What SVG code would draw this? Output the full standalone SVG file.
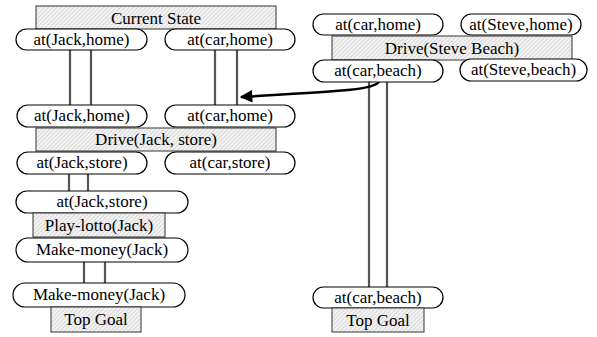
<svg xmlns="http://www.w3.org/2000/svg" width="597" height="337" viewBox="0 0 597 337" font-family="Times New Roman, Liberation Serif, serif">
<style>
.pill{fill:#fff;stroke:#000;stroke-width:1.2}
.box{fill:url(#hatch);stroke:#333;stroke-width:1}
.link{stroke:#555;stroke-width:2.2;fill:none}
.arrow{stroke:#000;stroke-width:2.5;fill:none}
</style>
<defs>
<pattern id="hatch" width="3" height="3" patternUnits="userSpaceOnUse" patternTransform="rotate(45)">
<rect width="3" height="3" fill="#f4f4f4"/>
<line x1="0" y1="0" x2="0" y2="3" stroke="#bbb" stroke-width="1"/>
</pattern>
<marker id="ah" viewBox="0 0 10 10" refX="9" refY="5" markerWidth="6" markerHeight="5" orient="auto" markerUnits="strokeWidth">
<path d="M0,0 L10,5 L0,10 z" fill="#000"/>
</marker>
</defs>
<g id="connectors">
<line class="link" x1="70" y1="50" x2="70" y2="106"/>
<line class="link" x1="91" y1="50" x2="91" y2="106"/>
<line class="link" x1="215" y1="50" x2="215" y2="106"/>
<line class="link" x1="237" y1="50" x2="237" y2="106"/>
<line class="link" x1="69" y1="174" x2="69" y2="192"/>
<line class="link" x1="88" y1="174" x2="88" y2="192"/>
<line class="link" x1="84" y1="262" x2="84" y2="284"/>
<line class="link" x1="105" y1="262" x2="105" y2="284"/>
<line class="link" x1="369" y1="82" x2="369" y2="288"/>
<line class="link" x1="387" y1="82" x2="387" y2="288"/>
<path class="arrow" d="M379,82 C372,90 345,91 241,97" marker-end="url(#ah)"/>
</g>
<g id="current-state"><rect class="box" x="36" y="6" width="240" height="23"/><text x="156" y="24" font-family="Times New Roman" font-size="17" text-anchor="middle">Current State</text></g>
<g id="n1"><rect class="pill" x="16" y="29" width="131" height="21" rx="10.5"/><text x="81.5" y="45" font-family="Times New Roman" font-size="17" text-anchor="middle">at(Jack,home)</text></g>
<g id="n2"><rect class="pill" x="165" y="29" width="130" height="21" rx="10.5"/><text x="230" y="45" font-family="Times New Roman" font-size="17" text-anchor="middle">at(car,home)</text></g>
<g id="n3"><rect class="pill" x="17" y="105" width="130" height="22" rx="11"/><text x="82" y="121" font-family="Times New Roman" font-size="17" text-anchor="middle">at(Jack,home)</text></g>
<g id="n4"><rect class="pill" x="165" y="105" width="130" height="22" rx="11"/><text x="230" y="121" font-family="Times New Roman" font-size="17" text-anchor="middle">at(car,home)</text></g>
<g id="drive-jack"><rect class="box" x="36" y="128" width="240" height="23"/><text x="156" y="145" font-family="Times New Roman" font-size="17" text-anchor="middle">Drive(Jack, store)</text></g>
<g id="n5"><rect class="pill" x="17" y="152" width="130" height="22" rx="11"/><text x="82" y="168" font-family="Times New Roman" font-size="17" text-anchor="middle">at(Jack,store)</text></g>
<g id="n6"><rect class="pill" x="165" y="152" width="130" height="22" rx="11"/><text x="230" y="168" font-family="Times New Roman" font-size="17" text-anchor="middle">at(car,store)</text></g>
<g id="n7"><rect class="pill" x="16" y="191" width="172" height="22" rx="11"/><text x="102" y="207" font-family="Times New Roman" font-size="17" text-anchor="middle">at(Jack,store)</text></g>
<g id="play-lotto"><rect class="box" x="33" y="213" width="132" height="24"/><text x="99" y="231" font-family="Times New Roman" font-size="17" text-anchor="middle">Play-lotto(Jack)</text></g>
<g id="n8"><rect class="pill" x="16" y="238" width="172" height="24" rx="12"/><text x="102" y="255" font-family="Times New Roman" font-size="17" text-anchor="middle">Make-money(Jack)</text></g>
<g id="n9"><rect class="pill" x="13" y="283" width="172" height="24" rx="12"/><text x="99" y="300" font-family="Times New Roman" font-size="17" text-anchor="middle">Make-money(Jack)</text></g>
<g id="top-goal-1"><rect class="box" x="51" y="307" width="90" height="25"/><text x="96" y="325" font-family="Times New Roman" font-size="17" text-anchor="middle">Top Goal</text></g>
<g id="n10"><rect class="pill" x="313" y="14" width="130" height="21" rx="10.5"/><text x="378" y="30" font-family="Times New Roman" font-size="17" text-anchor="middle">at(car,home)</text></g>
<g id="n11"><rect class="pill" x="461" y="14" width="120" height="21" rx="10.5"/><text x="521" y="30" font-family="Times New Roman" font-size="17" text-anchor="middle">at(Steve,home)</text></g>
<g id="drive-steve"><rect class="box" x="332" y="36" width="240" height="24"/><text x="452" y="54" font-family="Times New Roman" font-size="17" text-anchor="middle">Drive(Steve Beach)</text></g>
<g id="n12"><rect class="pill" x="313" y="60" width="130" height="22" rx="11"/><text x="378" y="76" font-family="Times New Roman" font-size="17" text-anchor="middle">at(car,beach)</text></g>
<g id="n13"><rect class="pill" x="460" y="59" width="127" height="22" rx="11"/><text x="523.5" y="75" font-family="Times New Roman" font-size="17" text-anchor="middle">at(Steve,beach)</text></g>
<g id="n14"><rect class="pill" x="313" y="287" width="130" height="21" rx="10.5"/><text x="378" y="303" font-family="Times New Roman" font-size="17" text-anchor="middle">at(car,beach)</text></g>
<g id="top-goal-2"><rect class="box" x="332" y="308" width="92" height="24"/><text x="378" y="326" font-family="Times New Roman" font-size="17" text-anchor="middle">Top Goal</text></g>
</svg>
